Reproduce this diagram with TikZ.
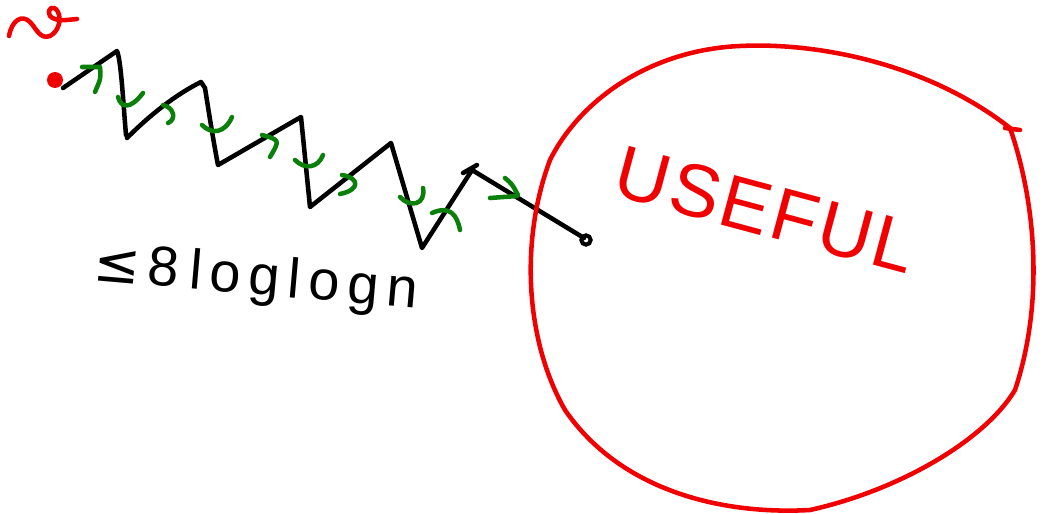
\documentclass[tikz,border=0pt]{standalone}
\usepackage{fontspec}
\setmainfont{Liberation Sans}
\newfontfamily\symfont{DejaVu Sans}
\definecolor{penred}{RGB}{240,0,0}
\definecolor{pengreen}{RGB}{10,128,10}
\begin{document}
\begin{tikzpicture}[x=0.75pt,y=-0.75pt,
  blackpen/.style={draw=black,line width=3.4pt,line cap=round,line join=round},
  redpen/.style={draw=penred,line width=3.4pt,line cap=round,line join=round},
  greenpen/.style={draw=pengreen,line width=3.4pt,line cap=round,line join=round}]
\useasboundingbox (0,0) rectangle (1043,514);
% red squiggle
\draw[redpen] (9,36) .. controls (12,20) and (22,14) .. (30,22)
  .. controls (36,28) and (40,40) .. (50,36)
  .. controls (58,32) and (62,20) .. (58,12)
  .. controls (54,4) and (46,8) .. (50,16)
  .. controls (56,22) and (66,20) .. (77,19);
% red dot at start
\coordinate (s0) at (63,88);
\fill[penred] (55,80) circle[radius=6pt];
% zigzag
\coordinate (z1) at (117,51);
\coordinate (z2) at (126,135);
\coordinate (z2b) at (127,138);
\coordinate (z3) at (201,82);
\coordinate (z4) at (218,165);
\coordinate (z5) at (301,117);
\coordinate (z6) at (310,207);
\coordinate (z7) at (391,143);
\coordinate (z8) at (422,248);
\coordinate (z9) at (472,170);
\coordinate (zend) at (584,238);
\draw[blackpen] (s0) -- (z1) .. controls (121,60) and (123,100) .. (z2)
  (z2b) .. controls (150,115) and (175,95) .. (z3)
  -- (205,88) .. controls (210,120) and (215,150) .. (z4)
  -- (z5) -- (z6) -- (z7) -- (z8) -- (z9) -- (zend);
\draw[blackpen] (463,173) -- (477,165);
\draw[black,line width=3pt] (586,240) circle[radius=3.5pt];
% green marks
\draw[greenpen] (82,67) -- (100,67) .. controls (101,78) .. (95,92);
\draw[greenpen] (118,97) .. controls (121,108) and (130,110) .. (143,93);
\draw[greenpen] (163,105) .. controls (175,108) and (176,120) .. (168,123);
\draw[greenpen] (202,125) .. controls (212,135) and (225,133) .. (232,117);
\draw[greenpen] (262,135) .. controls (280,140) .. (270,157);
\draw[greenpen] (295,160) .. controls (305,170) and (318,168) .. (323,155);
\draw[greenpen] (342,175) .. controls (360,178) and (360,190) .. (340,194);
\draw[greenpen] (400,197) .. controls (410,208) and (426,205) .. (423,188);
\draw[greenpen] (432,213) .. controls (450,205) and (457,215) .. (460,230);
\draw[greenpen] (490,198) -- (517,196);
\draw[greenpen] (505,178) .. controls (512,184) .. (518,195);
% black text
\node[rotate=-5,anchor=base west,inner sep=0pt] (bound) at (92,280)
  {\fontsize{42}{46}\selectfont{\symfont ≤}\kern6pt 8\kern8pt l\kern6pt o\kern6pt g\kern6pt l\kern6pt o\kern6pt g\kern6pt n};
% red blob
\draw[redpen] (740,46) .. controls (820,42) and (930,65) .. (1010,128)
  .. controls (1035,200) and (1045,300) .. (1015,390)
  .. controls (985,440) and (900,490) .. (810,510)
  .. controls (720,515) and (620,490) .. (565,410)
  .. controls (525,340) and (520,240) .. (550,160)
  .. controls (580,100) and (650,50) .. cycle;
\draw[redpen] (1005,128) -- (1020,130);
% USEFUL
\node[rotate=-15,text=penred,inner sep=0pt] (useful) at (766,210)
  {\fontsize{56}{60}\selectfont U\kern2pt S\kern2pt E\kern2pt F\kern2pt U\kern2pt L};
\end{tikzpicture}
\end{document}
